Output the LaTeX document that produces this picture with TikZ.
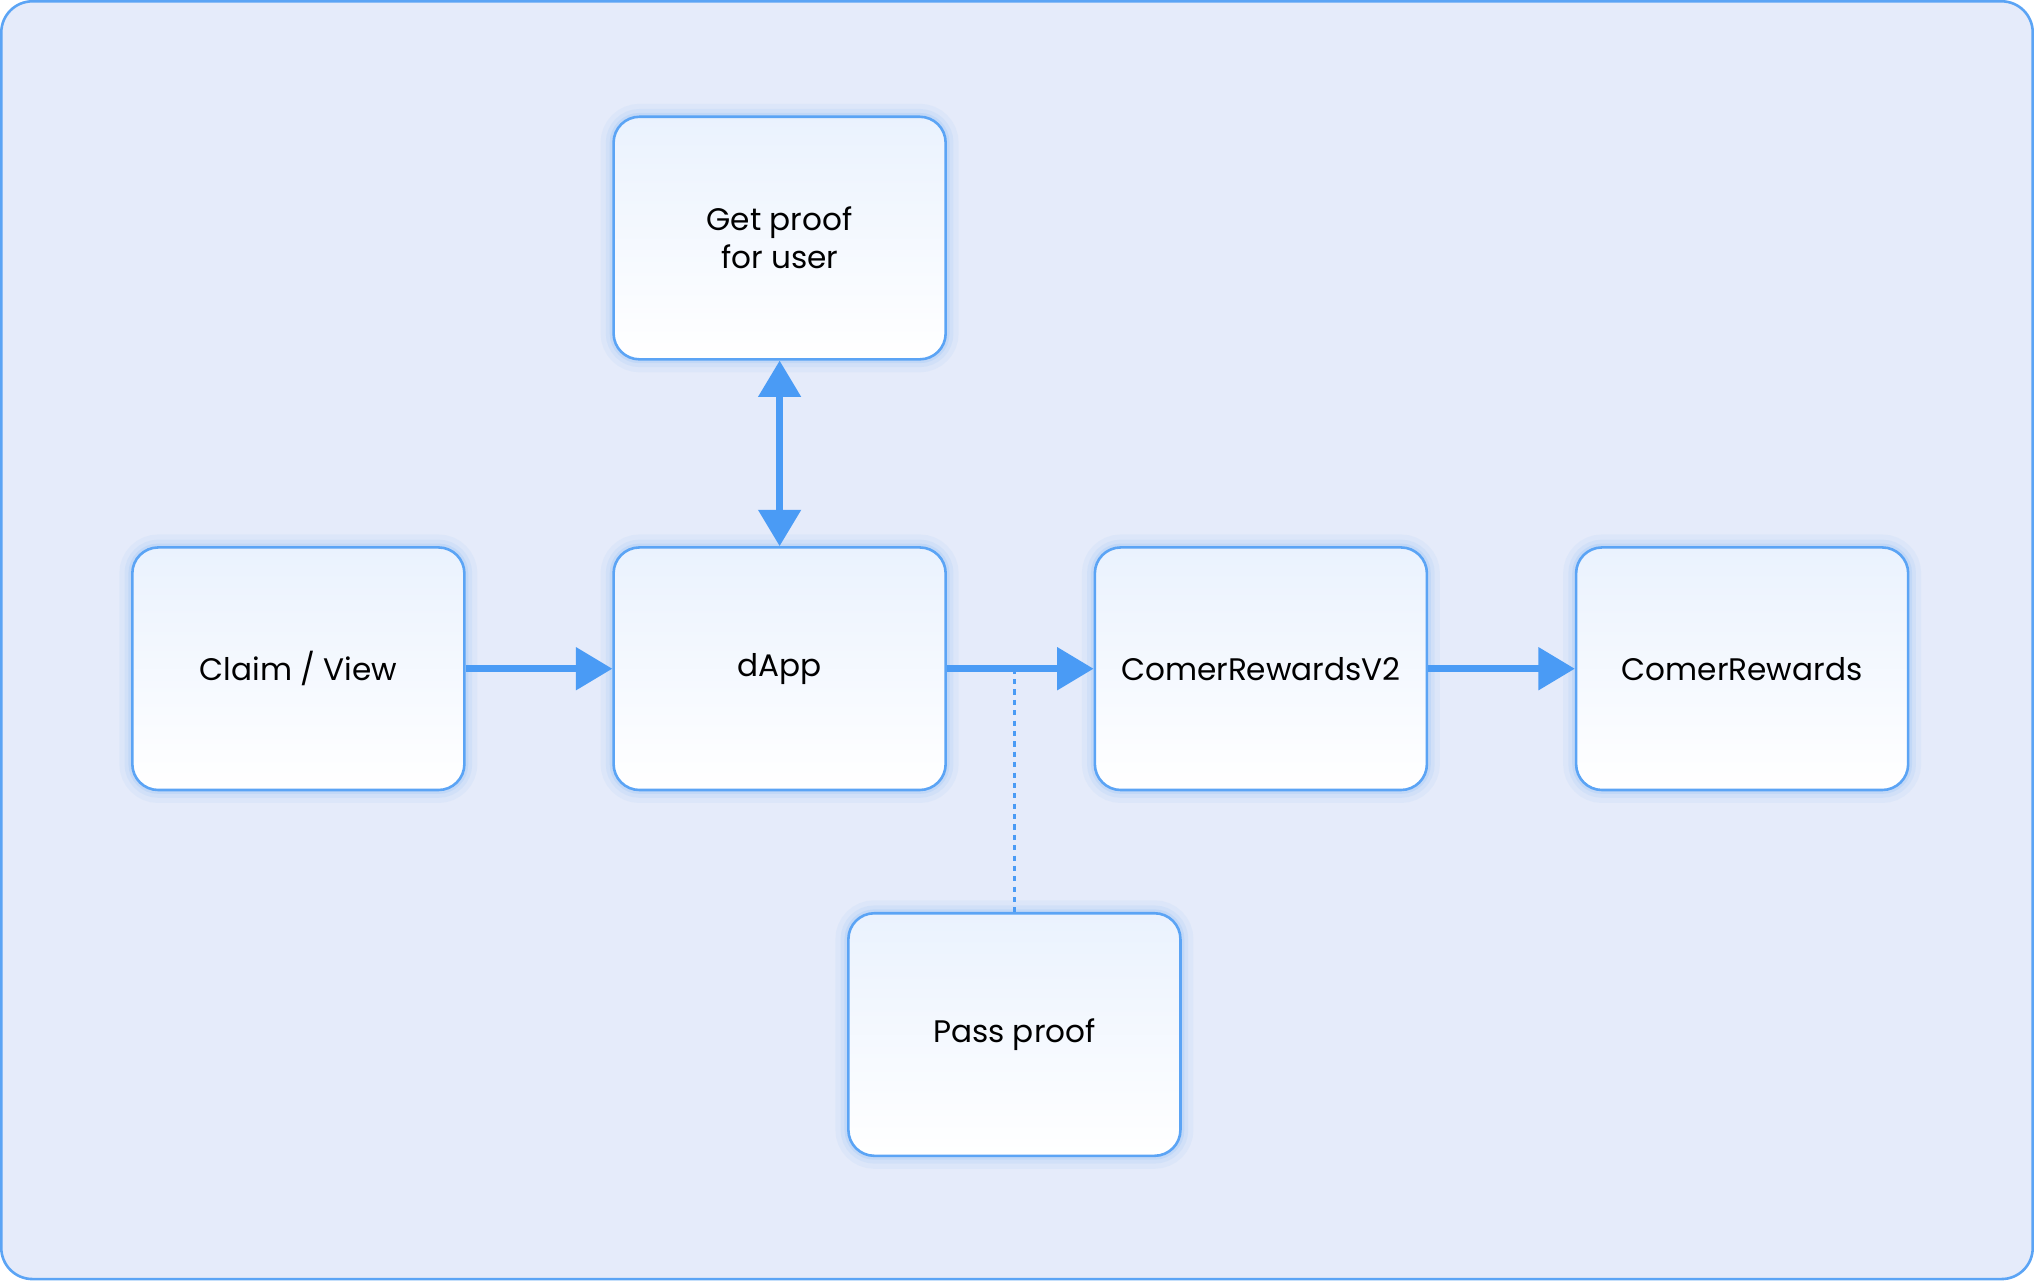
\documentclass[tikz,border=0pt]{standalone}
\usepackage{fontspec}
\setmainfont{Poppins}
\usetikzlibrary{arrows.meta}
\definecolor{bg}{HTML}{E5EBFA}
\definecolor{edge}{HTML}{5BA4F5}
\definecolor{arr}{HTML}{4A9BF5}
\definecolor{top}{HTML}{EAF2FE}
\begin{document}
\begin{tikzpicture}[x=0.5pt,y=-0.5pt,
  box/.style={draw=edge,line width=1pt,rounded corners=10pt,minimum width=128pt,minimum height=93.5pt,
    top color=top,bottom color=white,align=center,font=\fontsize{12}{14.5}\selectfont,
    preaction={draw=edge,line width=10pt,draw opacity=0.06},
    preaction={draw=edge,line width=6pt,draw opacity=0.08},
    preaction={draw=edge,line width=3pt,draw opacity=0.12}},
  ar/.style={draw=arr,line width=2.5pt,-{Triangle[length=14pt,width=16pt]}}]
\useasboundingbox (0,0) rectangle (1568,987);
\draw[fill=bg,draw=edge,line width=1pt,rounded corners=12pt] (1,1) rectangle (1567,986);
\node[box] (get) at (601,183.5) {Get proof\\for user};
\node[box] (claim) at (230,515.5) {Claim / View};
\node[box] (dapp) at (601,515.5) {dApp\vphantom{Cl}};
\node[box] (v2) at (972,515.5) {ComerRewardsV2};
\node[box] (cr) at (1343,515.5) {ComerRewards};
\node[box] (pass) at (782,797.5) {Pass proof};
\draw[ar] (claim) -- (dapp);
\draw[ar] (dapp) -- (v2);
\draw[ar] (v2) -- (cr);
\draw[draw=arr,line width=2.5pt,{Triangle[length=14pt,width=16pt]}-{Triangle[length=14pt,width=16pt]}] (get) -- (dapp);
\coordinate (j) at (pass.north |- dapp.east);
\draw[arr,line width=1pt,dash pattern=on 2pt off 2pt] (j) -- (pass.north);
\end{tikzpicture}
\end{document}
